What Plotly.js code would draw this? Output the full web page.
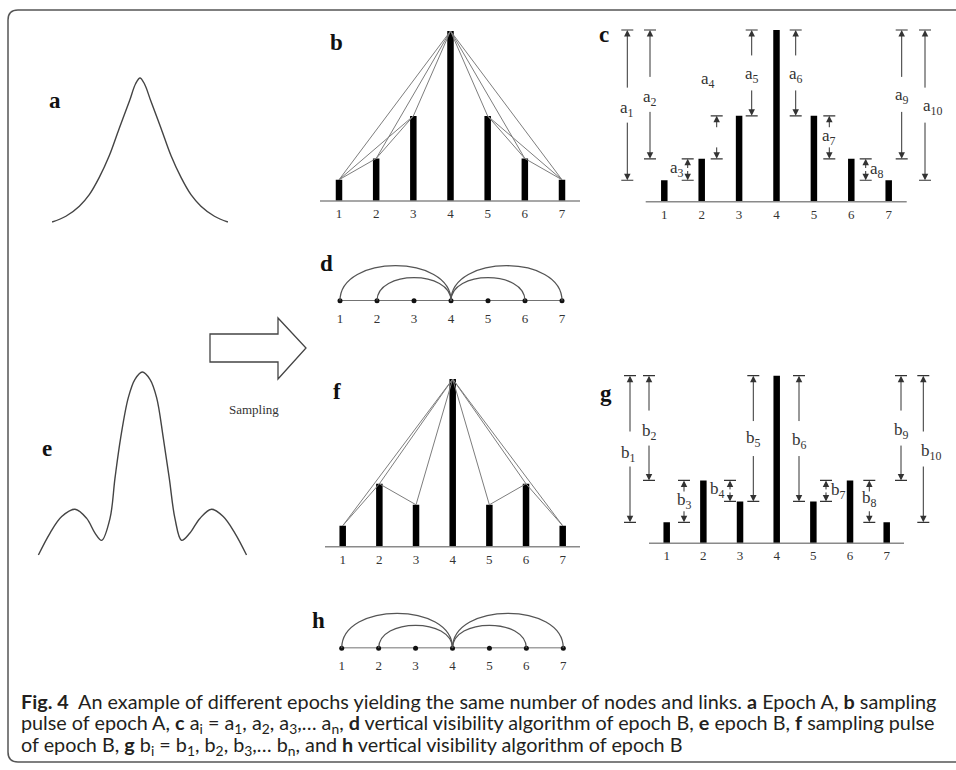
<!DOCTYPE html>
<html><head><meta charset="utf-8">
<script src="https://cdn.plot.ly/plotly-3.0.1.min.js"></script>
<style>html,body{margin:0;padding:0;background:#fff;}#chart{width:956px;height:770px;}</style>
</head><body><div id="chart"></div>
<script>
const W = 956, H = 770;
const PX = x => x / W, PY = y => 1 - y / H;

// ---------------- data ----------------
const nodes = [1, 2, 3, 4, 5, 6, 7];
const nodeLabels = ['1', '2', '3', '4', '5', '6', '7'];
// epoch A waveform (panel a)
const epochA_t = [-3.0, -2.53, -2.07, -1.73, -1.39, -1.05, -0.71, -0.36, -0.15, 0, 0.15, 0.37, 0.72, 1.06, 1.40, 1.74, 2.08, 2.54, 3.0];
const epochA_y = [0, 0.04, 0.11, 0.19, 0.31, 0.46, 0.65, 0.84, 0.96, 1, 0.96, 0.84, 0.65, 0.46, 0.31, 0.19, 0.11, 0.04, 0.0];
// epoch B waveform (panel e)
const epochB_t = [-3.12, -2.77, -2.42, -2.02, -1.67, -1.42, -1.22, -0.97, -0.82, -0.65, -0.42, -0.22, 0, 0.23, 0.43, 0.63, 0.81, 0.98, 1.18, 1.43, 1.73, 2.08, 2.43, 2.78, 3.13];
const epochB_y = [0, 0.12, 0.21, 0.25, 0.2, 0.12, 0.08, 0.2, 0.42, 0.64, 0.86, 0.96, 1, 0.96, 0.86, 0.64, 0.42, 0.2, 0.08, 0.12, 0.2, 0.25, 0.21, 0.12, 0];
// sampled pulses
const pulseA = [1, 2, 4, 8, 4, 2, 1];
const pulseB = [1, 3, 2, 8, 2, 3, 1];
// visibility arcs (panels d, h)
const arcsA = [[1, 4], [2, 4], [4, 6], [4, 7]];
const arcsB = [[1, 4], [2, 4], [4, 6], [4, 7]];
// height differences (panels c, g): [taller node, lower node]
const diffA = [[4, 1], [4, 2], [2, 1], [3, 2], [4, 3], [4, 5], [5, 6], [6, 7], [4, 6], [4, 7]];
const diffB = [[4, 1], [4, 2], [2, 1], [2, 3], [4, 3], [4, 5], [6, 5], [6, 7], [4, 6], [4, 7]];
const diffA_labels = ['a<sub>1</sub>', 'a<sub>2</sub>', 'a<sub>3</sub>', 'a<sub>4</sub>', 'a<sub>5</sub>', 'a<sub>6</sub>', 'a<sub>7</sub>', 'a<sub>8</sub>', 'a<sub>9</sub>', 'a<sub>10</sub>'];
const diffB_labels = ['b<sub>1</sub>', 'b<sub>2</sub>', 'b<sub>3</sub>', 'b<sub>4</sub>', 'b<sub>5</sub>', 'b<sub>6</sub>', 'b<sub>7</sub>', 'b<sub>8</sub>', 'b<sub>9</sub>', 'b<sub>10</sub>'];

// ---------------- placement (pixels) ----------------
const geo = {
  a: {kind: 'curve', t0: 140, tpx: 29.3, base: 222, unit: 144, box: [20, 290, 55, 235]},
  b: {x1: 339, x7: 562, base: 201, unit: 21.25, box: [300, 600, 15, 201], line: [320, 580], lab: 3},
  c: {x1: 664.3, x7: 888.7, base: 201.7, unit: 21.46, box: [605, 955, 15, 201.7], line: [645.7, 906.7], lab: 3},
  d: {x1: 340, x7: 562, base: 300.7, unit: 1, box: [300, 600, 245, 300.7], lab: 8},
  e: {kind: 'curve', t0: 142.3, tpx: 33.3, base: 555, unit: 183, box: [20, 290, 340, 570]},
  f: {x1: 342.7, x7: 562.7, base: 546.7, unit: 20.96, box: [300, 600, 360, 546.7], line: [325, 580], lab: 3},
  g: {x1: 666.7, x7: 886.7, base: 543.3, unit: 20.95, box: [605, 955, 360, 543.3], line: [649, 904], lab: 3},
  h: {x1: 341.7, x7: 563.3, base: 648.3, unit: 1, box: [300, 600, 595, 648.3], lab: 8}
};
const dimXA = [627.3, 650, 687.7, 716.7, 751.7, 795.7, 829.3, 865.7, 901.7, 925];
const dimModeA = ['mid', 'mid', 'side', 'mid', 'mid', 'mid', 'mid', 'side', 'mid', 'mid'];
const dimLabOffA = [[0, 4], [0, 4], [-11, -1], [-9, -57], [0, 2], [0, 2], [0, 0], [11, 0], [0, 2], [7, 2]];
const dimXB = [630, 649, 684, 730, 753.3, 799, 826, 869.3, 901, 923.3];
const dimModeB = ['mid', 'mid', 'mid', 'side', 'mid', 'mid', 'side', 'mid', 'mid', 'mid'];
const dimLabOffB = [[-2, 5], [0, 4], [0, 0], [-13, -1], [0, 0], [0, 2], [12, 0], [0, -2], [0, 3], [8, 3]];

const serif = 'Liberation Serif, Times New Roman, serif';
const ink = '#333';

const layout = {
  width: W, height: H, margin: {l: 0, r: 0, t: 0, b: 0},
  paper_bgcolor: '#fff', plot_bgcolor: 'rgba(0,0,0,0)', showlegend: false,
  shapes: [], annotations: []
};
const traces = [];

['a', 'b', 'c', 'd', 'e', 'f', 'g', 'h'].forEach((k, i) => {
  const g = geo[k], n = i + 1;
  g.xa = 'x' + (n > 1 ? n : ''); g.ya = 'y' + (n > 1 ? n : '');
  const [L, R, T, B] = g.box;
  if (g.kind === 'curve') g.toX = px => (px - g.t0) / g.tpx;
  else { g.s = (g.x7 - g.x1) / 6; g.toX = px => 1 + (px - g.x1) / g.s; }
  g.toY = py => (g.base - py) / g.unit;
  layout['xaxis' + (n > 1 ? n : '')] = {
    domain: [L / W, R / W], range: [g.toX(L), g.toX(R)], anchor: g.ya,
    showgrid: false, zeroline: false, showline: false, fixedrange: true,
    visible: g.kind !== 'curve', ticks: '', tickvals: nodes, ticktext: nodeLabels,
    tickfont: {family: serif, size: 13, color: ink}, ticklabelstandoff: g.lab || 0
  };
  layout['yaxis' + (n > 1 ? n : '')] = {
    domain: [1 - B / H, 1 - T / H], range: [g.toY(B), g.toY(T)], anchor: g.xa,
    visible: false, fixedrange: true
  };
});

// waveforms
[[geo.a, epochA_t, epochA_y], [geo.e, epochB_t, epochB_y]].forEach(([g, t, y]) => {
  traces.push({type: 'scatter', mode: 'lines', x: t, y: y, xaxis: g.xa, yaxis: g.ya,
    line: {color: '#444', width: 1.4, shape: 'spline', smoothing: 1}, hoverinfo: 'skip'});
});

// natural visibility edges
function visEdges(h) {
  const e = [];
  for (let i = 0; i < h.length; i++) for (let j = i + 1; j < h.length; j++) {
    let ok = true;
    for (let k = i + 1; k < j; k++) {
      const lim = h[j] + (h[i] - h[j]) * (j - k) / (j - i);
      if (h[k] >= lim) { ok = false; break; }
    }
    if (ok) e.push([i, j]);
  }
  return e;
}

function baseline(g) {
  layout.shapes.push({type: 'line', xref: 'paper', yref: 'paper', x0: PX(g.line[0]), x1: PX(g.line[1]),
    y0: PY(g.base), y1: PY(g.base), line: {color: '#8a8a8a', width: 1.4}});
}
function bars(g, h) {
  traces.push({type: 'bar', x: nodes, y: h, width: 6.5 / g.s, xaxis: g.xa, yaxis: g.ya,
    marker: {color: '#000', line: {width: 0}}, hoverinfo: 'skip'});
}
function visPanel(g, h) {
  const xs = [], ys = [];
  visEdges(h).forEach(([i, j]) => { xs.push(nodes[i], nodes[j], null); ys.push(h[i], h[j], null); });
  traces.push({type: 'scatter', mode: 'lines', x: xs, y: ys, xaxis: g.xa, yaxis: g.ya,
    line: {color: '#7d7d7d', width: 1}, hoverinfo: 'skip'});
  baseline(g); bars(g, h);
}
visPanel(geo.b, pulseA);
visPanel(geo.f, pulseB);

function dimPanel(g, h, pairs, labels, xpx, modes, offs) {
  baseline(g); bars(g, h);
  const tx = [], ty = [];
  const dx = 6 / g.s;
  pairs.forEach((p, idx) => {
    const yt = h[p[0] - 1], yb = h[p[1] - 1];
    const xv = g.toX(xpx[idx]);
    const spanPx = (yt - yb) * g.unit;
    const mid = (yt + yb) / 2;
    tx.push(xv - dx, xv + dx, null, xv - dx, xv + dx, null);
    ty.push(yt, yt, null, yb, yb, null);
    let tailTop, tailBot;
    if (modes[idx] === 'mid') {
      const gap = Math.min(16, spanPx * 0.2) / g.unit;
      tailTop = mid + gap; tailBot = mid - gap;
    } else { tailTop = mid; tailBot = mid; }
    [[yt, tailTop], [yb, tailBot]].forEach(([tip, tail]) => {
      layout.annotations.push({xref: g.xa, yref: g.ya, axref: g.xa, ayref: g.ya,
        x: xv, y: tip, ax: xv, ay: tail, text: '', showarrow: true,
        arrowhead: 2, arrowsize: 1.3, arrowwidth: 1, arrowcolor: ink, standoff: 0});
    });
    const o = offs[idx];
    layout.annotations.push({xref: g.xa, yref: g.ya, x: xv + o[0] / g.s, y: mid - o[1] / g.unit,
      text: labels[idx], showarrow: false, xanchor: 'center', yanchor: 'middle',
      font: {family: serif, size: 17, color: ink}});
  });
  traces.push({type: 'scatter', mode: 'lines', x: tx, y: ty, xaxis: g.xa, yaxis: g.ya,
    line: {color: ink, width: 1.2}, hoverinfo: 'skip'});
}
dimPanel(geo.c, pulseA, diffA, diffA_labels, dimXA, dimModeA, dimLabOffA);
dimPanel(geo.g, pulseB, diffB, diffB_labels, dimXB, dimModeB, dimLabOffB);

function arcPanel(g, arcs) {
  arcs.forEach(([i, j]) => {
    const peak = 12 * Math.abs(j - i) - 1;
    const hc = peak * 4 / 3;
    layout.shapes.push({type: 'path', xref: g.xa, yref: g.ya,
      path: `M ${i},0 C ${i},${hc} ${j},${hc} ${j},0`, line: {color: '#555', width: 1.3}});
  });
  traces.push({type: 'scatter', mode: 'lines+markers', x: nodes, y: nodes.map(() => 0),
    xaxis: g.xa, yaxis: g.ya, line: {color: '#444', width: 1.5},
    marker: {color: '#111', size: 5}, cliponaxis: false, hoverinfo: 'skip'});
}
arcPanel(geo.d, arcsA);
arcPanel(geo.h, arcsB);

// frame
layout.shapes.push({type: 'path', xref: 'paper', yref: 'paper',
  path: `M ${PX(970)},${PY(10)} L ${PX(18)},${PY(10)} Q ${PX(8)},${PY(10)} ${PX(8)},${PY(20)} L ${PX(8)},${PY(752)} Q ${PX(8)},${PY(762)} ${PX(18)},${PY(762)} L ${PX(970)},${PY(762)}`,
  line: {color: '#555', width: 1.5}});
// sampling arrow
const ar = [[210, 334], [278, 334], [278, 318], [306, 348], [278, 379], [278, 362], [210, 362]];
layout.shapes.push({type: 'path', xref: 'paper', yref: 'paper',
  path: 'M ' + ar.map(p => PX(p[0]) + ',' + PY(p[1])).join(' L ') + ' Z',
  fillcolor: '#fff', line: {color: '#444', width: 1.3}});

function txt(x, y, t, font, xa) {
  layout.annotations.push({xref: 'paper', yref: 'paper', x: PX(x), y: PY(y), text: t,
    showarrow: false, xanchor: xa || 'center', yanchor: 'middle', font: font});
}
const letterFont = {family: serif, size: 23, color: '#111', weight: 'bold'};
[['a', 55, 100], ['b', 336, 43], ['c', 604, 35], ['d', 326, 263], ['e', 47, 448], ['f', 337, 392], ['g', 606, 393], ['h', 318, 620]]
  .forEach(([t, x, y]) => txt(x, y, '<b>' + t + '</b>', letterFont));
txt(254, 410, 'Sampling', {family: serif, size: 13, color: ink});

const capFont = {family: 'Lato, Open Sans, sans-serif', size: 19.8, color: '#231f20'};
const caption = [
  '<b>Fig. 4</b>\u00a0 An example of different epochs yielding the same number of nodes and links. <b>a</b> Epoch A, <b>b</b> sampling',
  'pulse of epoch A, <b>c</b> a<sub>i</sub> = a<sub>1</sub>, a<sub>2</sub>, a<sub>3</sub>,… a<sub>n</sub>, <b>d</b> vertical visibility algorithm of epoch B, <b>e</b> epoch B, <b>f</b> sampling pulse',
  'of epoch B, <b>g</b> b<sub>i</sub> = b<sub>1</sub>, b<sub>2</sub>, b<sub>3</sub>,… b<sub>n</sub>, and <b>h</b> vertical visibility algorithm of epoch B'
];
caption.forEach((c, i) => txt(19, 701 + 22 * i, c, capFont, 'left'));

Plotly.newPlot('chart', traces, layout, {staticPlot: true, displayModeBar: false});
</script></body></html>
